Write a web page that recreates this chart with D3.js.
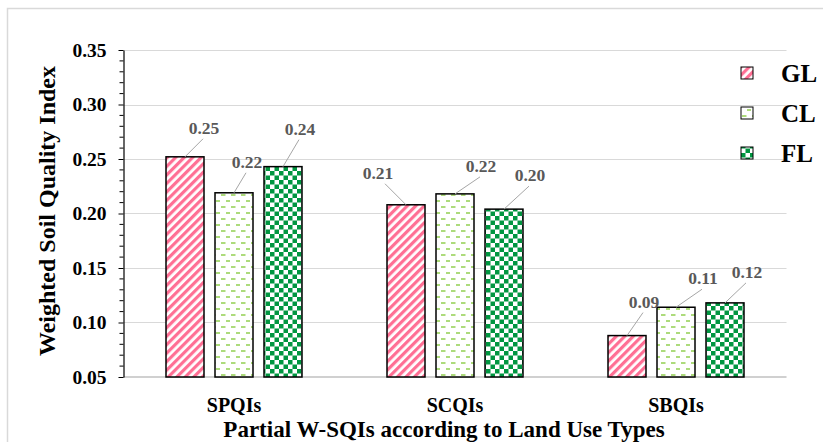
<!DOCTYPE html>
<html>
<head>
<meta charset="utf-8">
<script src="https://cdn.jsdelivr.net/npm/d3@7"></script>
<style>
  html, body { margin: 0; padding: 0; background: #fff; }
  svg text { font-family: "Liberation Serif", "Times New Roman", serif; font-weight: bold; }
</style>
</head>
<body>
<svg id="chart" width="823" height="442"></svg>
<script>
// data
var categories = ["SPQIs", "SCQIs", "SBQIs"];
var seriesNames = ["GL", "CL", "FL"];
var valuesGL = [0.252, 0.208, 0.088];
var valuesCL = [0.219, 0.218, 0.114];
var valuesFL = [0.243, 0.204, 0.118];
var yTicks = [0.05, 0.10, 0.15, 0.20, 0.25, 0.30, 0.35];

// label placement (offset from the top of each bar), like the hand-moved excel labels
var labelOffsets = {
  GL: [[19, -29], [-28, -32], [17, -34]],
  CL: [[13, -31], [26, -28], [27, -29]],
  FL: [[17, -38], [26, -34], [22, -31]]
};

var svg = d3.select("#chart");
var margin = {left: 123.5, right: 786.5, top: 50, bottom: 377};

// outer chart frame (runs off the picture on the right and bottom)
svg.append("rect")
  .attr("x", 7.5).attr("y", 8.5)
  .attr("width", 900).attr("height", 500)
  .attr("fill", "none")
  .attr("stroke", "#d9d9d9")
  .attr("stroke-width", 1.5);

// patterns
var defs = svg.append("defs");

var pGL = defs.append("pattern")
  .attr("id", "pat-GL")
  .attr("patternUnits", "userSpaceOnUse")
  .attr("width", 6).attr("height", 6)
  .attr("patternTransform", "rotate(45)");
pGL.append("rect").attr("width", 6).attr("height", 6).attr("fill", "#fff");
pGL.append("rect").attr("width", 3.2).attr("height", 6).attr("fill", "#ff6f94");

var pCL = defs.append("pattern")
  .attr("id", "pat-CL")
  .attr("patternUnits", "userSpaceOnUse")
  .attr("width", 10).attr("height", 12);
pCL.append("rect").attr("width", 10).attr("height", 12).attr("fill", "#fff");
pCL.append("line")
  .attr("x1", 1).attr("x2", 5.5).attr("y1", 3).attr("y2", 3)
  .attr("stroke", "#92d050").attr("stroke-width", 1.5);
pCL.append("line")
  .attr("x1", 6).attr("x2", 10.5).attr("y1", 9).attr("y2", 9)
  .attr("stroke", "#92d050").attr("stroke-width", 1.5);

var cell = 4.5;
var pFL = defs.append("pattern")
  .attr("id", "pat-FL")
  .attr("patternUnits", "userSpaceOnUse")
  .attr("width", cell * 2).attr("height", cell * 2);
pFL.append("rect").attr("width", cell * 2).attr("height", cell * 2).attr("fill", "#fff");
pFL.append("rect").attr("width", cell).attr("height", cell).attr("fill", "#009640");
pFL.append("rect").attr("x", cell).attr("y", cell).attr("width", cell).attr("height", cell).attr("fill", "#009640");

// scales
var y = d3.scaleLinear()
  .domain([0.05, 0.35])
  .range([margin.bottom, margin.top]);

var x0 = d3.scaleBand()
  .domain(categories)
  .range([margin.left, margin.right])
  .padding(0);

var x1 = d3.scaleBand()
  .domain(seriesNames)
  .range([42.5, x0.bandwidth() - 42.5])
  .paddingInner(11 / 49);

// gridlines
svg.append("g")
  .selectAll("line")
  .data(yTicks.slice(1))
  .join("line")
  .attr("x1", margin.left).attr("x2", margin.right)
  .attr("y1", function(d){ return Math.round(y(d)) + 0.5; })
  .attr("y2", function(d){ return Math.round(y(d)) + 0.5; })
  .attr("stroke", "#d9d9d9")
  .attr("stroke-width", 1);

// category axis line at 0.05
svg.append("line")
  .attr("x1", margin.left).attr("x2", margin.right)
  .attr("y1", y(0.05)).attr("y2", y(0.05))
  .attr("stroke", "#d0d0d0")
  .attr("stroke-width", 2);

// bars
var series = [
  {name: "GL", values: valuesGL},
  {name: "CL", values: valuesCL},
  {name: "FL", values: valuesFL}
];

var gBars = svg.append("g");
series.forEach(function(s){
  gBars.selectAll("rect.bar-" + s.name)
    .data(s.values)
    .join("rect")
    .attr("class", "bar-" + s.name)
    .attr("x", function(d, i){ return x0(categories[i]) + x1(s.name); })
    .attr("y", function(d){ return y(d); })
    .attr("width", x1.bandwidth())
    .attr("height", function(d){ return y(0.05) - y(d); })
    .attr("fill", "url(#pat-" + s.name + ")")
    .attr("stroke", "#000")
    .attr("stroke-width", 1.5);
});

// data labels with leader lines
var gLab = svg.append("g");
series.forEach(function(s){
  s.values.forEach(function(v, i){
    var bx = x0(categories[i]) + x1(s.name) + x1.bandwidth() / 2;
    var by = y(v);
    var off = labelOffsets[s.name][i];
    var lx = bx + off[0], ly = by + off[1];
    gLab.append("line")
      .attr("x1", bx).attr("y1", by)
      .attr("x2", lx + (off[0] < 0 ? 7 : -1)).attr("y2", ly + 11)
      .attr("stroke", "#a6a6a6")
      .attr("stroke-width", 1);
    gLab.append("text")
      .attr("x", lx).attr("y", ly)
      .attr("text-anchor", "middle")
      .attr("dominant-baseline", "central")
      .attr("fill", "#595959")
      .style("font-size", "17.5px")
      .text(d3.format(".2f")(v));
  });
});

// y axis, major + minor ticks
var yAxis = svg.append("g")
  .attr("transform", "translate(" + margin.left + ",0)")
  .call(d3.axisLeft(y).tickValues(yTicks).tickSize(5).tickSizeOuter(0).tickPadding(12)
    .tickFormat(d3.format(".2f")));
yAxis.select(".domain").attr("stroke", "#000").attr("stroke-width", 1.2);
yAxis.selectAll(".tick line").attr("stroke", "#000");
yAxis.selectAll(".tick text")
  .attr("fill", "#000")
  .style("font-size", "19.5px")
  .style("font-family", "'Liberation Serif', 'Times New Roman', serif")
  .style("font-weight", "bold");

var minorTicks = d3.range(5, 36).map(function(d){ return d / 100; })
  .filter(function(d){ return Math.round(d * 100) % 5 !== 0; });
svg.append("g")
  .selectAll("line")
  .data(minorTicks)
  .join("line")
  .attr("x1", margin.left - 4).attr("x2", margin.left)
  .attr("y1", function(d){ return y(d); })
  .attr("y2", function(d){ return y(d); })
  .attr("stroke", "#000");

// category labels
svg.append("g")
  .selectAll("text")
  .data(categories)
  .join("text")
  .attr("x", function(d){ return x0(d) + x0.bandwidth() / 2; })
  .attr("y", 412)
  .attr("text-anchor", "middle")
  .style("font-size", "20px")
  .text(function(d){ return d; });

// axis titles
svg.append("text")
  .attr("x", 444).attr("y", 437)
  .attr("text-anchor", "middle")
  .style("font-size", "23px")
  .text("Partial W-SQIs according to Land Use Types");

svg.append("text")
  .attr("transform", "translate(55,211) rotate(-90)")
  .attr("text-anchor", "middle")
  .style("font-size", "24px")
  .text("Weighted Soil Quality Index");

// legend
var legend = svg.append("g")
  .selectAll("g")
  .data(seriesNames)
  .join("g")
  .attr("transform", function(d, i){ return "translate(741," + (73 + i * 40) + ")"; });
legend.append("rect")
  .attr("x", 0).attr("y", -6)
  .attr("width", 12).attr("height", 12)
  .attr("fill", function(d){ return "url(#pat-" + d + ")"; })
  .attr("stroke", "#000")
  .attr("stroke-width", 1);
legend.append("text")
  .attr("x", 40).attr("y", 8.5)
  .style("font-size", "25px")
  .text(function(d){ return d; });
</script>
</body>
</html>
